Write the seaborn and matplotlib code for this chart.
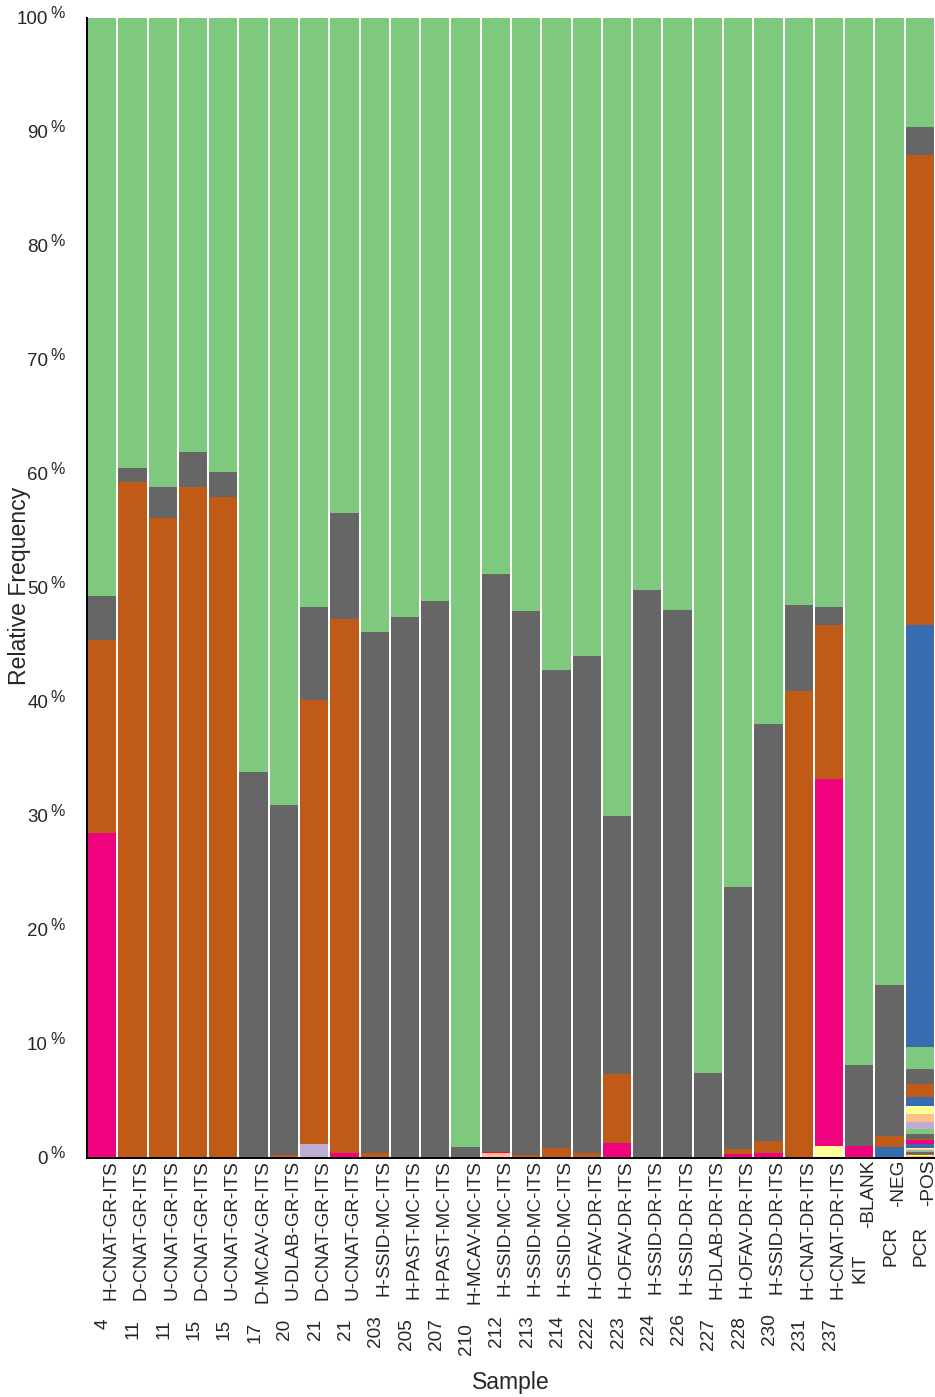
import matplotlib
matplotlib.use("Agg")
import matplotlib.pyplot as plt
import numpy as np
import pandas as pd
import seaborn as sns
from matplotlib.transforms import blended_transform_factory, IdentityTransform, ScaledTranslation

# ---- samples (site/colony number and sample name) ----
sample_ids = ["4", "11", "11", "15", "15", "17", "20", "21", "21", "203", "205",
              "207", "210", "212", "213", "214", "222", "223", "224", "226", "227",
              "228", "230", "231", "237", "KIT", "PCR", "PCR"]
sample_names = ["H-CNAT-GR-ITS", "D-CNAT-GR-ITS", "U-CNAT-GR-ITS", "D-CNAT-GR-ITS",
                "U-CNAT-GR-ITS", "D-MCAV-GR-ITS", "U-DLAB-GR-ITS", "D-CNAT-GR-ITS",
                "U-CNAT-GR-ITS", "H-SSID-MC-ITS", "H-PAST-MC-ITS", "H-PAST-MC-ITS",
                "H-MCAV-MC-ITS", "H-SSID-MC-ITS", "H-SSID-MC-ITS", "H-SSID-MC-ITS",
                "H-OFAV-DR-ITS", "H-OFAV-DR-ITS", "H-SSID-DR-ITS", "H-SSID-DR-ITS",
                "H-DLAB-DR-ITS", "H-OFAV-DR-ITS", "H-SSID-DR-ITS", "H-CNAT-DR-ITS",
                "H-CNAT-DR-ITS", "-BLANK", "-NEG", "-POS"]

# ---- relative frequency (%) of the most abundant taxa, one value per sample ----
taxon_25 = [0, 0, 0, 0, 0, 0, 0, 1.2, 0, 0, 0, 0, 0, 0, 0, 0, 0, 0, 0, 0, 0, 0, 0, 0, 0, 0, 0, 0]
taxon_26 = [0, 0, 0, 0, 0, 0, 0, 0, 0, 0, 0, 0, 0, 0.3, 0, 0, 0, 0, 0, 0, 0, 0, 0, 0, 0, 0, 0, 0]
taxon_27 = [0, 0, 0, 0, 0, 0, 0, 0, 0, 0, 0, 0, 0, 0, 0, 0, 0, 0, 0, 0, 0, 0, 0, 0, 1.05, 0, 0, 0]
taxon_28 = [0, 0, 0, 0, 0, 0, 0, 0, 0, 0, 0, 0, 0, 0, 0, 0, 0, 0, 0, 0, 0, 0, 0, 0, 0, 0, 0.95, 37.0]
taxon_29 = [28.5, 0, 0, 0, 0, 0, 0, 0, 0.4, 0, 0, 0, 0, 0.1, 0, 0, 0.1, 1.3, 0, 0, 0,
            0.35, 0.4, 0, 32.2, 1.05, 0, 0]
taxon_30 = [16.9, 59.3, 56.1, 58.9, 58.0, 0.1, 0.3, 39.0, 46.9, 0.4, 0, 0.1, 0.1, 0,
            0.25, 0.85, 0.35, 6.1, 0.1, 0.1, 0.1, 0.4, 1.05, 41.0, 13.5, 0, 1.0, 41.2]
taxon_31 = [3.9, 1.2, 2.8, 3.0, 2.2, 33.8, 30.7, 8.1, 9.3, 45.7, 47.5, 48.8, 0.9, 50.7,
            47.75, 41.95, 43.6, 22.6, 49.7, 48.0, 7.4, 23.05, 36.65, 7.5, 1.55, 7.1, 13.2, 2.5]
taxon_32 = [50.7, 39.5, 41.1, 38.1, 39.8, 66.1, 69.0, 51.7, 43.4, 53.9, 52.5, 51.1, 99.0,
            48.8, 52.0, 57.2, 55.95, 70.0, 50.2, 51.9, 92.5, 76.2, 61.9, 51.5, 51.7,
            91.85, 84.85, 9.54]

# ---- rare taxa 0..24, only found in the positive control and in sample 212 ----
rare_taxa_pos = [0.09, 0, 0.08, 0.12, 0, 0, 0.1, 0.1, 0.1, 0.08, 0.1, 0.12, 0.3, 0.35,
                 0.15, 0.44, 0.41, 0.64, 0.68, 0.73, 0.79, 0, 1.11, 1.32, 1.95]
rare_taxa_212 = [0, 0, 0, 0, 0, 0, 0, 0, 0, 0, 0, 0, 0, 0, 0, 0, 0, 0, 0, 0, 0, 0.1, 0, 0, 0]

# y-axis ticks (percent)
y_ticks = list(range(0, 101, 10))

n_samples = len(sample_ids)
n_rare = len(rare_taxa_pos)
sample_keys = [f"{i} {n}" for i, n in zip(sample_ids, sample_names)]

# long table: one row per (taxon, sample)
rows = []
for t in range(n_rare):
    for s in range(n_samples):
        v = 0.0
        if s == n_samples - 1:
            v = rare_taxa_pos[t]
        elif s == 13:
            v = rare_taxa_212[t]
        rows.append((t, sample_keys[s], v))
upper = [taxon_25, taxon_26, taxon_27, taxon_28, taxon_29, taxon_30, taxon_31, taxon_32]
for k, vals in enumerate(upper):
    for s in range(n_samples):
        rows.append((n_rare + k, sample_keys[s], vals[s]))
df = pd.DataFrame(rows, columns=["taxon", "sample", "freq"])
df = df.sort_values(["sample", "taxon"])
df["cum"] = df.groupby("sample")["freq"].cumsum()

n_taxa = df["taxon"].max() + 1
accent = sns.color_palette("Accent", 8)

sns.set_style("white")
plt.rcParams["font.family"] = ["Liberation Sans", "DejaVu Sans"]

fig = plt.figure(figsize=(9.35, 13.97), dpi=100)
ax = fig.add_axes([87 / 935, 1 - 1158 / 1397, 848 / 935, 1140 / 1397])

# stacked bars: draw cumulative totals from the top layer down
for t in range(n_taxa - 1, -1, -1):
    layer = df[df["taxon"] == t]
    sns.barplot(data=layer, x="sample", y="cum", order=sample_keys,
                color=accent[t % 8], width=0.93, errorbar=None, saturation=1,
                linewidth=0, ax=ax)

ax.set_xlim(-0.5, n_samples - 0.5)
ax.set_ylim(0, 100)
for side in ["top", "right"]:
    ax.spines[side].set_visible(False)
for side in ["left", "bottom"]:
    ax.spines[side].set_linewidth(1.4)
    ax.spines[side].set_color("black")

ax.set_yticks(y_ticks)
ax.set_yticklabels([""] * len(y_ticks))
ax.tick_params(axis="y", direction="out", length=8.5, width=1.3, colors="black")
ax.set_xticks([-0.5])
ax.set_xticklabels([""])
ax.tick_params(axis="x", direction="out", length=7, width=1.3)
ax.set_xlabel("")
ax.set_ylabel("")

# y tick labels: number with a raised percent sign
num_tr = blended_transform_factory(ax.transAxes, ax.transData) + \
    ScaledTranslation(-39 / 100, -1.5 / 100, fig.dpi_scale_trans)
pct_tr = blended_transform_factory(ax.transAxes, ax.transData) + \
    ScaledTranslation(-37 / 100, -2.5 / 100, fig.dpi_scale_trans)
for v in y_ticks:
    ax.text(0, v, str(v), transform=num_tr, ha="right", va="center",
            fontsize=13.5, clip_on=False)
    ax.text(0, v, "%", transform=pct_tr, ha="left", va="bottom",
            fontsize=11.5, clip_on=False)

# two-part sample labels below each bar
label_size = 13.7
name_tr = blended_transform_factory(ax.transData, ax.transAxes) + \
    ScaledTranslation(9 / 100, -2 / 100, fig.dpi_scale_trans)
name_txts = []
for s in range(n_samples):
    name_txts.append(ax.text(s, 0, sample_names[s], transform=name_tr, rotation=90,
                             ha="center", va="top", fontsize=label_size, clip_on=False))
fig.canvas.draw()
id_tr = blended_transform_factory(ax.transData, IdentityTransform()) + \
    ScaledTranslation(1 / 100, 0, fig.dpi_scale_trans)
for s in range(n_samples):
    bb = name_txts[s].get_window_extent()
    gap = 25 if sample_ids[s] == "KIT" else 19
    ax.text(s, bb.y0 - gap, sample_ids[s], transform=id_tr, rotation=90,
            ha="center", va="top", fontsize=label_size, clip_on=False)

fig.text(511 / 935, 1 - 1383 / 1397, "Sample", ha="center", va="center", fontsize=16.6)
fig.text(20 / 935, 1 - 586 / 1397, "Relative Frequency", ha="center", va="center",
         rotation=90, fontsize=16.6)

fig.savefig("out.png", dpi=100)
